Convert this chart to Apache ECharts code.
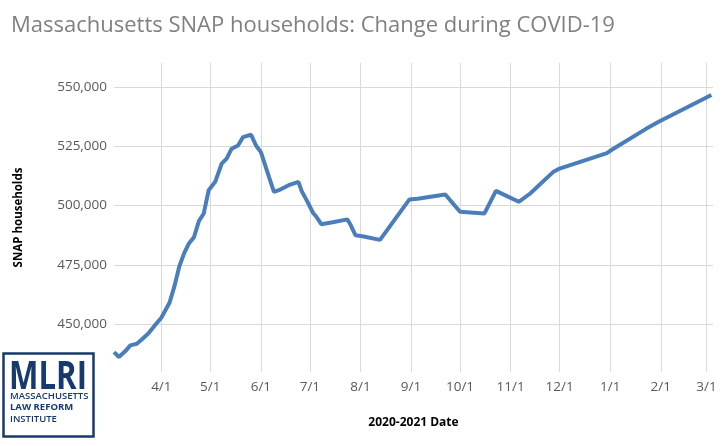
<!DOCTYPE html>
<html>
    <head>
        <meta charset="utf-8">
        <script src="https://cdn.jsdelivr.net/npm/echarts@6/dist/echarts.min.js"></script>
    </head>
    <body>
        <style>
            html, body, #main {
                margin: 0;
                width: 100%;
                height: 100vh;
                background: #fff;
            }
        </style>

        <div id="main"></div>

        <script>
            // weekly-ish SNAP household counts
            const dates = [
                '2020-03-03', '2020-03-06', '2020-03-10', '2020-03-13', '2020-03-17', '2020-03-20',
                '2020-03-24', '2020-03-28', '2020-04-01', '2020-04-06', '2020-04-09', '2020-04-12',
                '2020-04-15', '2020-04-18', '2020-04-21', '2020-04-24', '2020-04-27', '2020-04-30',
                '2020-05-04', '2020-05-08', '2020-05-11', '2020-05-14', '2020-05-18', '2020-05-21',
                '2020-05-26', '2020-05-29', '2020-06-01', '2020-06-06', '2020-06-09', '2020-06-12',
                '2020-06-18', '2020-06-24', '2020-06-26', '2020-06-29', '2020-07-03', '2020-07-05',
                '2020-07-08', '2020-07-15', '2020-07-24', '2020-07-26', '2020-07-29', '2020-08-03',
                '2020-08-13', '2020-08-31', '2020-09-05', '2020-09-22', '2020-10-01', '2020-10-16',
                '2020-10-23', '2020-11-06', '2020-11-13', '2020-11-27', '2020-12-01', '2020-12-30',
                '2021-01-02', '2021-01-23', '2021-01-31', '2021-03-04'
            ];
            const households = [
                438400, 436300, 438800, 441200, 441900, 443700,
                446200, 449600, 452800, 459100, 466000, 474400,
                480000, 484200, 486700, 493500, 496700, 506500,
                510000, 517700, 519800, 523900, 525300, 528800,
                529800, 525300, 522500, 512000, 505800, 506500,
                508600, 510000, 506100, 502300, 496900, 495300,
                492200, 493000, 494200, 491800, 487500, 487000,
                485600, 502600, 502900, 504700, 497400, 496700,
                506200, 501600, 505100, 514100, 515600, 522100,
                523500, 532300, 535400, 546500
            ];
            const monthTicks = [
                '2020-04-01', '2020-05-01', '2020-06-01', '2020-07-01', '2020-08-01', '2020-09-01',
                '2020-10-01', '2020-11-01', '2020-12-01', '2021-01-01', '2021-02-01', '2021-03-01'
            ];
            const yTicks = [450000, 475000, 500000, 525000, 550000];

            var chart = echarts.init(document.querySelector('#main'));
            window.onresize = chart.resize;

            const navy = '#173a6e';
            const grey = '#595959';
            // dates as UTC timestamps on a plain value axis
            const ts = (s) => Date.parse(s);
            const xTicks = monthTicks.map(ts);

            var option = {
                animation: false,
                title: {
                    text: 'Massachusetts SNAP households: Change during COVID-19',
                    left: 6,
                    top: 10,
                    textStyle: {
                        fontFamily: 'Open Sans',
                        fontSize: 22,
                        fontWeight: 'normal',
                        color: '#808080'
                    }
                },
                grid: {left: 114, right: 13, top: 63, bottom: 74, outerBoundsMode: 'none'},
                xAxis: {
                    type: 'value',
                    min: ts(dates[0]),
                    max: ts('2021-03-05'),
                    name: '2020-2021 Date',
                    nameLocation: 'middle',
                    nameGap: 45,
                    nameTextStyle: {fontFamily: 'Open Sans', fontSize: 12, fontWeight: 'bold', color: '#000'},
                    axisLine: {show: false},
                    axisTick: {show: false, customValues: xTicks},
                    splitLine: {show: true, lineStyle: {color: '#d9d9d9', width: 1}},
                    axisLabel: {
                        customValues: xTicks,
                        margin: 8,
                        fontFamily: 'Open Sans',
                        fontSize: 13.5,
                        color: grey,
                        formatter: (v) => {
                            const d = new Date(v);
                            return (d.getUTCMonth() + 1) + '/' + d.getUTCDate();
                        }
                    }
                },
                yAxis: {
                    type: 'value',
                    min: 430000,
                    max: 560000,
                    name: 'SNAP households',
                    nameLocation: 'middle',
                    nameGap: 89,
                    nameTextStyle: {fontFamily: 'Open Sans', fontSize: 11.5, fontWeight: 'bold', color: '#000'},
                    axisLine: {show: false},
                    axisTick: {show: false, customValues: yTicks},
                    splitLine: {show: true, lineStyle: {color: '#d9d9d9', width: 1}},
                    axisLabel: {
                        customValues: yTicks,
                        margin: 7,
                        fontFamily: 'Open Sans',
                        fontSize: 13.5,
                        color: grey,
                        formatter: (v) => v.toLocaleString('en-US')
                    }
                },
                series: [{
                    type: 'line',
                    data: dates.map((d, i) => [ts(d), households[i]]),
                    showSymbol: false,
                    lineStyle: {color: '#4a7ebb', width: 4},
                    itemStyle: {color: '#4a7ebb'}
                }],
                graphic: [
                    {
                        type: 'rect',
                        shape: {x: 3.5, y: 353.5, width: 90, height: 83},
                        style: {fill: '#fff', stroke: navy, lineWidth: 2.5}
                    },
                    {
                        type: 'text', x: 9, y: 358, scaleX: 0.8,
                        style: {text: 'MLRI', fill: navy, font: 'bold 39px "Open Sans"'}
                    },
                    {
                        type: 'text', x: 10, y: 391,
                        style: {text: 'MASSACHUSETTS', fill: navy, font: '600 9.5px "Open Sans"'}
                    },
                    {
                        type: 'text', x: 10, y: 402,
                        style: {text: 'LAW REFORM', fill: navy, font: 'bold 9.5px "Open Sans"'}
                    },
                    {
                        type: 'text', x: 10, y: 414,
                        style: {text: 'INSTITUTE', fill: navy, font: '600 9.5px "Open Sans"'}
                    }
                ]
            };

            chart.setOption(option);
        </script>
    </body>
</html>
